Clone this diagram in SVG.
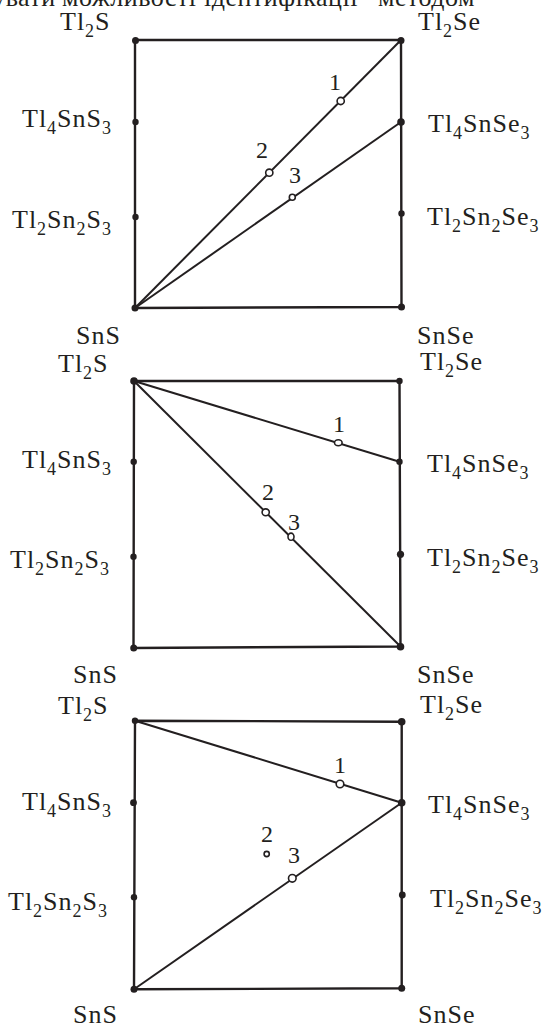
<svg xmlns="http://www.w3.org/2000/svg" width="550" height="1028" viewBox="0 0 550 1028">
<style>
  text { font-family: 'Liberation Serif', 'Times New Roman', Times, serif; fill: #231f20; }
  .t { font-size: 26px; letter-spacing: 1px; }
  .s { font-size: 18px; }
  .n { font-size: 24px; }
  .hdr { font-size: 26px; letter-spacing: 0.5px; }
  .edge { stroke: #231f20; stroke-width: 2.4; fill: none; stroke-linecap: round; }
  .tie { stroke: #231f20; stroke-width: 2; fill: none; }
  .dot { fill: #231f20; }
  .pt { fill: #ffffff; stroke: #231f20; stroke-width: 1.6; }
</style>
<rect width="550" height="1028" fill="#ffffff"/>
<text class="hdr" y="6"><tspan x="-78">аналізувати</tspan><tspan x="62">можливості</tspan><tspan x="204">ідентифікації</tspan><tspan x="378">методом</tspan></text>

<!-- Panel 1 -->
<g id="panel1-frame">
  <path class="edge" d="M135,40 L401,40 L401.5,307 L135,308 Z"/>
</g>
<g id="panel1-connectors">
  <line class="tie" x1="135" y1="308" x2="401" y2="40"/>
  <line class="tie" x1="135" y1="308" x2="401" y2="122"/>
</g>
<g id="panel1-nodes">
  <g id="p1-Tl2S"><circle class="dot" cx="135.5" cy="40.5" r="3.5"/><text class="t" x="60" y="30">Tl<tspan class="s" dy="7">2</tspan><tspan dy="-7">S</tspan></text></g>
  <g id="p1-Tl2Se"><circle class="dot" cx="401" cy="40.5" r="3.5"/><text class="t" x="418" y="30">Tl<tspan class="s" dy="7">2</tspan><tspan dy="-7">Se</tspan></text></g>
  <g id="p1-Tl4SnS3"><circle class="dot" cx="135.5" cy="122" r="3.2"/><text class="t" x="22" y="127">Tl<tspan class="s" dy="7">4</tspan><tspan dy="-7">SnS</tspan><tspan class="s" dy="7">3</tspan></text></g>
  <g id="p1-Tl4SnSe3"><circle class="dot" cx="401" cy="122" r="3.8"/><text class="t" x="428" y="132">Tl<tspan class="s" dy="7">4</tspan><tspan dy="-7">SnSe</tspan><tspan class="s" dy="7">3</tspan></text></g>
  <g id="p1-Tl2Sn2S3"><circle class="dot" cx="135.5" cy="217" r="3.2"/><text class="t" x="12" y="228">Tl<tspan class="s" dy="7">2</tspan><tspan dy="-7">Sn</tspan><tspan class="s" dy="7">2</tspan><tspan dy="-7">S</tspan><tspan class="s" dy="7">3</tspan></text></g>
  <g id="p1-Tl2Sn2Se3"><circle class="dot" cx="401.5" cy="213.5" r="3.2"/><text class="t" x="427" y="225">Tl<tspan class="s" dy="7">2</tspan><tspan dy="-7">Sn</tspan><tspan class="s" dy="7">2</tspan><tspan dy="-7">Se</tspan><tspan class="s" dy="7">3</tspan></text></g>
  <g id="p1-SnS"><circle class="dot" cx="135" cy="308" r="3.5"/><text class="t" x="76" y="344">SnS</text></g>
  <g id="p1-SnSe"><circle class="dot" cx="401.5" cy="307" r="3.5"/><text class="t" x="417" y="344">SnSe</text></g>
  <g id="p1-pt1"><circle class="pt" cx="340.7" cy="101" r="3.6"/><text class="n" x="329" y="90">1</text></g>
  <g id="p1-pt2"><circle class="pt" cx="269.3" cy="172.7" r="3.6"/><text class="n" x="256" y="158">2</text></g>
  <g id="p1-pt3"><circle class="pt" cx="292.3" cy="197.3" r="3"/><text class="n" x="289" y="183">3</text></g>
</g>

<!-- Panel 2 -->
<g id="panel2-frame">
  <path class="edge" d="M134,381 L399.5,381 L400.5,646.5 L133.5,648 Z"/>
</g>
<g id="panel2-connectors">
  <line class="tie" x1="134" y1="381" x2="399.5" y2="461.7"/>
  <line class="tie" x1="134" y1="381" x2="400.5" y2="646.5"/>
</g>
<g id="panel2-nodes">
  <g id="p2-Tl2S"><circle class="dot" cx="134" cy="381" r="3.8"/><text class="t" x="58" y="372">Tl<tspan class="s" dy="7">2</tspan><tspan dy="-7">S</tspan></text></g>
  <g id="p2-Tl2Se"><circle class="dot" cx="399.5" cy="381" r="3.2"/><text class="t" x="420" y="370">Tl<tspan class="s" dy="7">2</tspan><tspan dy="-7">Se</tspan></text></g>
  <g id="p2-Tl4SnS3"><circle class="dot" cx="133.7" cy="461.7" r="3.2"/><text class="t" x="22" y="468">Tl<tspan class="s" dy="7">4</tspan><tspan dy="-7">SnS</tspan><tspan class="s" dy="7">3</tspan></text></g>
  <g id="p2-Tl4SnSe3"><circle class="dot" cx="399.5" cy="461.7" r="3.2"/><text class="t" x="427" y="472">Tl<tspan class="s" dy="7">4</tspan><tspan dy="-7">SnSe</tspan><tspan class="s" dy="7">3</tspan></text></g>
  <g id="p2-Tl2Sn2S3"><circle class="dot" cx="133.5" cy="556.7" r="3.2"/><text class="t" x="10" y="568">Tl<tspan class="s" dy="7">2</tspan><tspan dy="-7">Sn</tspan><tspan class="s" dy="7">2</tspan><tspan dy="-7">S</tspan><tspan class="s" dy="7">3</tspan></text></g>
  <g id="p2-Tl2Sn2Se3"><circle class="dot" cx="400.5" cy="554.3" r="3.6"/><text class="t" x="427" y="566">Tl<tspan class="s" dy="7">2</tspan><tspan dy="-7">Sn</tspan><tspan class="s" dy="7">2</tspan><tspan dy="-7">Se</tspan><tspan class="s" dy="7">3</tspan></text></g>
  <g id="p2-SnS"><circle class="dot" cx="133.7" cy="648" r="3.5"/><text class="t" x="73" y="683">SnS</text></g>
  <g id="p2-SnSe"><circle class="dot" cx="400.5" cy="646.7" r="3.8"/><text class="t" x="417" y="683">SnSe</text></g>
  <g id="p2-pt1"><ellipse class="pt" cx="338.3" cy="442.7" rx="3.8" ry="3"/><text class="n" x="333" y="432">1</text></g>
  <g id="p2-pt2"><ellipse class="pt" cx="265.7" cy="512.3" rx="3.6" ry="3.4"/><text class="n" x="262" y="500">2</text></g>
  <g id="p2-pt3"><ellipse class="pt" cx="291" cy="536.7" rx="3" ry="3.6"/><text class="n" x="288" y="530">3</text></g>
</g>

<!-- Panel 3 -->
<g id="panel3-frame">
  <path class="edge" d="M135,720.7 L401.7,721.7 L401.7,988.3 L134,989.3 Z"/>
</g>
<g id="panel3-connectors">
  <line class="tie" x1="135" y1="720.7" x2="401.7" y2="802.7"/>
  <line class="tie" x1="134" y1="989.3" x2="401.7" y2="802.7"/>
</g>
<g id="panel3-nodes">
  <g id="p3-Tl2S"><circle class="dot" cx="135" cy="720.7" r="3.2"/><text class="t" x="58" y="714">Tl<tspan class="s" dy="7">2</tspan><tspan dy="-7">S</tspan></text></g>
  <g id="p3-Tl2Se"><circle class="dot" cx="401.7" cy="721.7" r="3.8"/><text class="t" x="420" y="713">Tl<tspan class="s" dy="7">2</tspan><tspan dy="-7">Se</tspan></text></g>
  <g id="p3-Tl4SnS3"><circle class="dot" cx="133.5" cy="802.7" r="3.4"/><text class="t" x="22" y="810">Tl<tspan class="s" dy="7">4</tspan><tspan dy="-7">SnS</tspan><tspan class="s" dy="7">3</tspan></text></g>
  <g id="p3-Tl4SnSe3"><circle class="dot" cx="401.7" cy="802.7" r="3.8"/><text class="t" x="428" y="813">Tl<tspan class="s" dy="7">4</tspan><tspan dy="-7">SnSe</tspan><tspan class="s" dy="7">3</tspan></text></g>
  <g id="p3-Tl2Sn2S3"><circle class="dot" cx="134" cy="897.3" r="3.2"/><text class="t" x="8" y="910">Tl<tspan class="s" dy="7">2</tspan><tspan dy="-7">Sn</tspan><tspan class="s" dy="7">2</tspan><tspan dy="-7">S</tspan><tspan class="s" dy="7">3</tspan></text></g>
  <g id="p3-Tl2Sn2Se3"><circle class="dot" cx="402.3" cy="895" r="3.4"/><text class="t" x="430" y="907">Tl<tspan class="s" dy="7">2</tspan><tspan dy="-7">Sn</tspan><tspan class="s" dy="7">2</tspan><tspan dy="-7">Se</tspan><tspan class="s" dy="7">3</tspan></text></g>
  <g id="p3-SnS"><circle class="dot" cx="134" cy="989.3" r="3.5"/><text class="t" x="73" y="1023">SnS</text></g>
  <g id="p3-SnSe"><circle class="dot" cx="401.7" cy="988.3" r="3.5"/><text class="t" x="418" y="1023">SnSe</text></g>
  <g id="p3-pt1"><circle class="pt" cx="340" cy="784" r="3.8"/><text class="n" x="334" y="773">1</text></g>
  <g id="p3-pt2"><circle class="pt" cx="266.7" cy="854" r="2.6"/><text class="n" x="261" y="842">2</text></g>
  <g id="p3-pt3"><circle class="pt" cx="292.3" cy="878.3" r="3.8"/><text class="n" x="288" y="863">3</text></g>
</g>
</svg>
